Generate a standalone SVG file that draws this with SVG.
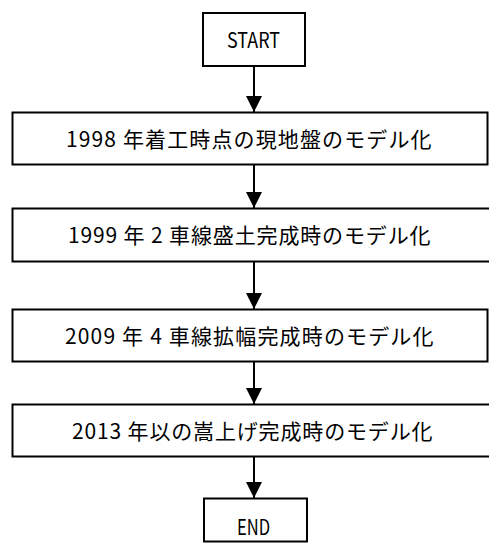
<svg xmlns="http://www.w3.org/2000/svg" width="489" height="544" viewBox="0 0 489 544">
<style>
.box{fill:#fff;stroke:#000;stroke-width:2}
.t{font-family:"Noto Sans CJK JP","Noto Sans",sans-serif;font-size:21px;fill:#000;letter-spacing:1.5px}
.lat{font-family:"Noto Sans CJK JP","Noto Sans",sans-serif;font-size:21px;fill:#000}
.c{stroke:#000;stroke-width:2;fill:none}
</style>
<defs>
<marker id="ah" markerUnits="userSpaceOnUse" markerWidth="16" markerHeight="16" viewBox="0 0 16 16" refX="16" refY="8" orient="auto">
<path d="M0,0 L16,8 L0,16 Z" fill="#000"/>
</marker>
</defs>
<g id="connectors">
<line class="c" x1="254" y1="66" x2="254" y2="112" marker-end="url(#ah)"/>
<line class="c" x1="254" y1="165" x2="254" y2="208" marker-end="url(#ah)"/>
<line class="c" x1="254" y1="262" x2="254" y2="309" marker-end="url(#ah)"/>
<line class="c" x1="254" y1="362" x2="254" y2="404" marker-end="url(#ah)"/>
<line class="c" x1="254" y1="457" x2="254" y2="498" marker-end="url(#ah)"/>
</g>
<g id="start">
<rect class="box" x="203" y="13" width="102" height="53"/>
<text class="lat" x="227" y="48" textLength="53" lengthAdjust="spacingAndGlyphs">START</text>
</g>
<g id="step1">
<rect class="box" x="12.5" y="112.5" width="475" height="52"/>
<text class="t" x="66" y="147" textLength="367" lengthAdjust="spacing">1998 年着工時点の現地盤のモデル化</text>
</g>
<g id="step2">
<rect class="box" x="12.5" y="208.5" width="480" height="53"/>
<text class="t" x="68" y="243" textLength="364" lengthAdjust="spacing">1999 年 2 車線盛土完成時のモデル化</text>
</g>
<g id="step3">
<rect class="box" x="12.5" y="309.5" width="475" height="52"/>
<text class="t" x="65" y="344" textLength="370" lengthAdjust="spacing">2009 年 4 車線拡幅完成時のモデル化</text>
</g>
<g id="step4">
<rect class="box" x="12.5" y="404.5" width="480" height="52"/>
<text class="t" x="72" y="439" textLength="362" lengthAdjust="spacing">2013 年以の嵩上げ完成時のモデル化</text>
</g>
<g id="end">
<rect class="box" x="204" y="498.5" width="103" height="43"/>
<text class="lat" x="237" y="535" textLength="33" lengthAdjust="spacingAndGlyphs">END</text>
</g>
</svg>
